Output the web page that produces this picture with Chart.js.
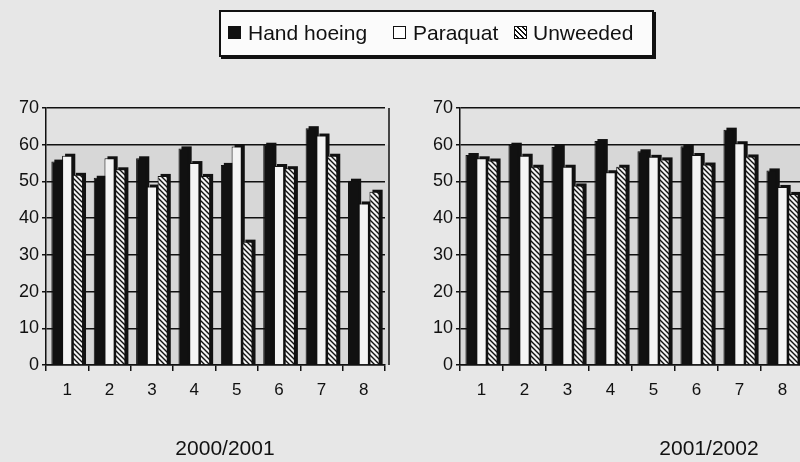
<!DOCTYPE html>
<html>
<head>
<meta charset="utf-8">
<script src="https://cdn.jsdelivr.net/npm/chart.js@4/dist/chart.umd.min.js"></script>
<style>
  html, body { margin:0; padding:0; width:800px; height:462px; overflow:hidden; background:#e7e7e7; font-family:"Liberation Sans", Arial, sans-serif; }
  .wrap { position:absolute; top:0; }
  #legend { position:absolute; left:219px; top:10px; width:431px; height:43px; background:#fbfbfb; border:2px solid #111; box-shadow:2px 2px 0 #111; }
  .sw { position:absolute; top:14px; width:13px; height:13px; box-sizing:border-box; border:1.5px solid #111; }
  .lt { position:absolute; top:9px; font-size:21px; color:#111; white-space:nowrap; }
  .title { position:absolute; top:436px; font-size:21px; color:#111; transform:translateX(-50%); white-space:nowrap; }
</style>
</head>
<body>
<div class="wrap" style="left:0;"><canvas id="c1" width="400" height="462"></canvas></div>
<div class="wrap" style="left:400px;"><canvas id="c2" width="410" height="462"></canvas></div>
<div id="legend">
  <div class="sw" style="left:7px;background:#111;"></div><div class="lt" style="left:27px;">Hand hoeing</div>
  <div class="sw" style="left:172px;background:#fff;"></div><div class="lt" style="left:192px;">Paraquat</div>
  <div class="sw" style="left:293px;background:repeating-linear-gradient(45deg,#fff 0 2px,#111 2px 3.5px);"></div><div class="lt" style="left:312px;">Unweeded</div>
</div>
<div class="title" style="left:225px;">2000/2001</div>
<div class="title" style="left:709px;">2001/2002</div>
<script>
const categories = ['1','2','3','4','5','6','7','8'];
const seriesNames = ['Hand hoeing','Paraquat','Unweeded'];
const hand2000     = [55.4, 51.0, 56.3, 59.0, 54.5, 60.0, 64.5, 50.2];
const paraquat2000 = [57.0, 56.3, 48.6, 55.0, 59.5, 54.2, 62.5, 44.0];
const unweeded2000 = [51.8, 53.3, 51.5, 51.5, 33.6, 53.6, 57.0, 47.2];
const hand2001     = [57.2, 60.0, 59.4, 61.0, 58.2, 59.6, 64.1, 53.0];
const paraquat2001 = [56.3, 57.0, 54.0, 52.5, 56.7, 57.2, 60.4, 48.5];
const unweeded2001 = [55.7, 54.0, 48.9, 54.0, 56.0, 54.6, 56.8, 46.6];
const yTicks = [0,10,20,30,40,50,60,70];

function hatch() {
  const c = document.createElement('canvas');
  c.width = 5; c.height = 5;
  const g = c.getContext('2d');
  g.fillStyle = '#f2f2f2'; g.fillRect(0,0,5,5);
  g.strokeStyle = '#111'; g.lineWidth = 1.4;
  g.beginPath();
  g.moveTo(-1,-1); g.lineTo(6,6);
  g.moveTo(-1,4); g.lineTo(1,6);
  g.moveTo(4,-1); g.lineTo(6,1);
  g.stroke();
  return g.createPattern(c, 'repeat');
}

const bgPlugin = {
  id: 'bg',
  beforeDraw(chart) {
    const {ctx, chartArea:a, scales:{y}} = chart;
    ctx.save();
    ctx.fillStyle = '#d7d7d7';
    ctx.fillRect(a.left, a.top, a.right - a.left + 4, a.bottom - a.top);
    ctx.fillStyle = '#e2e2e2';
    ctx.fillRect(a.left, a.top, a.right - a.left + 4, y.getPixelForValue(60) - a.top);
    ctx.restore();
  },
  beforeDatasetsDraw(chart) {
    const {ctx, chartArea:a} = chart;
    ctx.save();
    ctx.strokeStyle = '#111'; ctx.lineWidth = 1.5;
    ctx.beginPath();
    ctx.moveTo(a.right + 4, a.top); ctx.lineTo(a.right + 4, a.bottom);
    ctx.stroke();
    // 3D side shadow of each bar
    ctx.fillStyle = '#111';
    chart.data.datasets.forEach((ds, i) => {
      chart.getDatasetMeta(i).data.forEach(bar => {
        const w = bar.width;
        ctx.fillRect(bar.x - w/2 + 3, bar.y - 2, w, bar.base - bar.y + 2);
      });
    });
    ctx.restore();
  }
};

function makeChart(id, h, p, u, axisW, padRight) {
  const pat = hatch();
  return new Chart(document.getElementById(id), {
    type: 'bar',
    data: {
      labels: categories,
      datasets: [
        { label: seriesNames[0], data: h, backgroundColor: '#111', borderColor: '#111', borderWidth: 1 },
        { label: seriesNames[1], data: p, backgroundColor: '#f4f4f4', borderColor: '#111', borderWidth: 1 },
        { label: seriesNames[2], data: u, backgroundColor: pat, borderColor: '#111', borderWidth: 1 }
      ]
    },
    options: {
      responsive: false,
      animation: false,
      events: [],
      layout: { padding: { left: 0, right: padRight, top: 108, bottom: 57 } },
      plugins: { legend: { display: false }, tooltip: { enabled: false } },
      datasets: { bar: { barPercentage: 0.95, categoryPercentage: 0.76 } },
      scales: {
        x: {
          grid: { display: true, drawOnChartArea: false, drawTicks: true, tickLength: 6, color: '#111', lineWidth: 1.5, offset: true },
          border: { display: true, color: '#111', width: 1.5 },
          ticks: { font: { family: 'Liberation Sans', size: 17 }, color: '#111', padding: 9 },
          afterFit(s) { s.height = 40; }
        },
        y: {
          min: 0, max: 70,
          afterBuildTicks(s) { s.ticks = yTicks.map(v => ({ value: v })); },
          grid: { color: '#111', lineWidth: 1.5, tickLength: 4, drawTicks: true },
          border: { display: true, color: '#111', width: 1.5 },
          ticks: { font: { family: 'Liberation Sans', size: 18 }, color: '#111', padding: 3 },
          afterFit(s) { s.width = axisW; }
        }
      }
    },
    plugins: [bgPlugin]
  });
}

makeChart('c1', hand2000, paraquat2000, unweeded2000, 46, 15);
makeChart('c2', hand2001, paraquat2001, unweeded2001, 60, 6);
</script>
</body>
</html>
